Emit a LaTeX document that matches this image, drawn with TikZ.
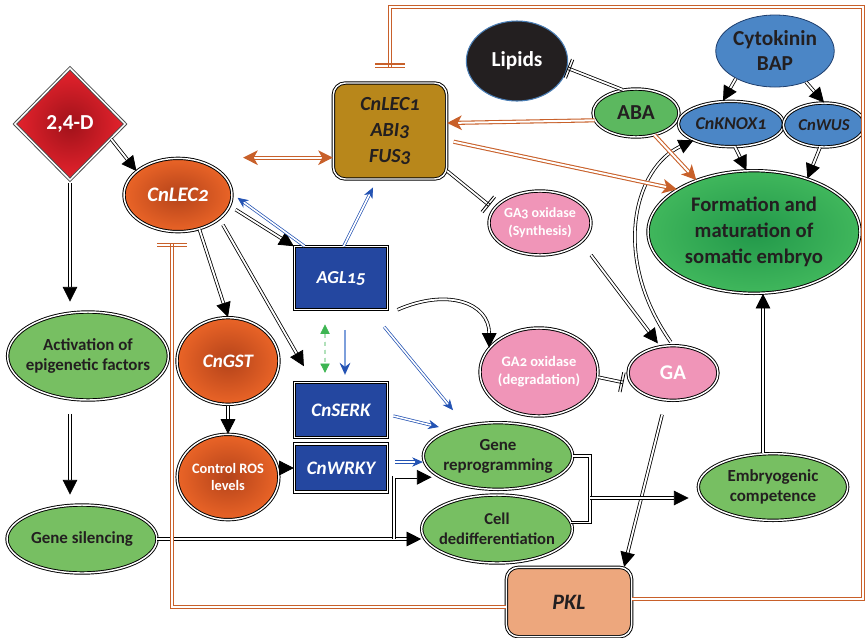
\documentclass[tikz,border=0pt]{standalone}
\usepackage{fontspec}
\setmainfont{Carlito}[Numbers=OldStyle]
\usetikzlibrary{shapes.geometric,arrows.meta,calc}
\definecolor{txt}{HTML}{231F20}
\definecolor{redI}{HTML}{A0121A}
\definecolor{redO}{HTML}{E6232D}
\definecolor{orI}{HTML}{B4431A}
\definecolor{orO}{HTML}{EA6427}
\definecolor{gold}{HTML}{B8871B}
\definecolor{lipK}{HTML}{231F20}
\definecolor{lipB}{HTML}{4A7EB5}
\definecolor{cyB}{HTML}{4B86C6}
\definecolor{cyD}{HTML}{1F3F6E}
\definecolor{abaG}{HTML}{5CB85F}
\definecolor{lg}{HTML}{77BF62}
\definecolor{fmI}{HTML}{22984A}
\definecolor{fmO}{HTML}{40B75C}
\definecolor{pink}{HTML}{F095B8}
\definecolor{dblue}{HTML}{2447A0}
\definecolor{pkl}{HTML}{EDA77D}
\definecolor{orL}{HTML}{C8602A}
\definecolor{blL}{HTML}{2453B3}
\definecolor{lbl}{HTML}{7D9FDB}
\definecolor{gdash}{HTML}{3DB552}
\tikzset{
 nb/.style={draw=black, line width=0.7pt, double=white, double distance=1.1pt, inner sep=0pt, align=center, text=txt},
 ell/.style={nb, ellipse},
 bx/.style={nb, rectangle},
 dl/.style={draw=black, line width=0.6pt, double=white, double distance=1.4pt},
 arr/.style={dl, -{Triangle[length=11pt,width=11pt]}},
 inh/.style={dl, -{Bar[width=15pt,line width=0.6pt,sep=1.3pt]Bar[width=15pt,line width=0.6pt]}},
 ol/.style={draw=orL, line width=0.8pt, double=white, double distance=1.5pt},
 oarr/.style={ol, -{Stealth[length=11pt,width=11pt,inset=3pt]}},
 obi/.style={ol, {Stealth[length=11pt,width=11pt,inset=3pt]}-{Stealth[length=11pt,width=11pt,inset=3pt]}},
 oinh/.style={ol, -{Bar[width=22pt,line width=0.9pt,sep=1.5pt]Bar[width=22pt,line width=0.9pt]}},
 bl/.style={draw=blL, line width=0.55pt, double=white, double distance=1.2pt},
 barr/.style={bl, -{Stealth[length=8pt,width=7pt,inset=2.5pt]}},
}
\begin{document}
\begin{tikzpicture}[x=0.75pt,y=-0.75pt]
\useasboundingbox (0,0) rectangle (865,637);
% nodes
\node[nb, diamond, aspect=1, minimum width=83pt, minimum height=84pt, shade, inner color=redI, outer color=redO, draw=black!70, text=white, font=\bfseries\fontsize{16}{18}\selectfont\addfontfeatures{Numbers=Lining}] (d24) at (70,124) {2,4-D};
\node[ell, minimum width=81pt, minimum height=55pt, shade, inner color=orI, outer color=orO, text=white, font=\bfseries\itshape\fontsize{15.5}{18}\selectfont] (lec2) at (178,195) {CnLEC2};
\node[bx, rounded corners=9pt, minimum width=85pt, minimum height=72pt, fill=gold, font=\bfseries\itshape\fontsize{15}{19.5}\selectfont] (lec1) at (390,131) {CnLEC1\\ABI3\\FUS3};
\node[ellipse, draw=lipB, line width=0.8pt, fill=lipK, text=white, inner sep=0pt, minimum width=76pt, minimum height=60pt, font=\bfseries\fontsize{16}{18}\selectfont] (lip) at (517,61) {Lipids};
\node[ellipse, draw=cyD, line width=0.6pt, fill=cyB, text=txt, inner sep=0pt, align=center, minimum width=88pt, minimum height=54pt, font=\bfseries\fontsize{16}{18.75}\selectfont] (cyt) at (775,51) {Cytokinin\\BAP};
\node[ell, minimum width=64.5pt, minimum height=36pt, fill=abaG, font=\bfseries\fontsize{16}{18}\selectfont] (aba) at (636,113) {ABA};
\node[ell, minimum width=79pt, minimum height=34pt, fill=cyB, font=\bfseries\itshape\fontsize{13.5}{16}\selectfont] (knox) at (731,124) {CnKNOX1};
\node[ell, minimum width=61pt, minimum height=33pt, fill=cyB, font=\bfseries\itshape\fontsize{12.5}{15}\selectfont] (wus) at (824,125) {CnWUS};
\node[ell, inner xsep=-4pt, minimum width=159pt, minimum height=92pt, shade, inner color=fmI, outer color=fmO, font=\bfseries\fontsize{15.5}{19.5}\selectfont] (form) at (754,232) {Formation and\\maturation of\\somatic embryo};
\node[ell, minimum width=76.5pt, minimum height=48pt, fill=pink, text=white, font=\bfseries\fontsize{10.5}{13.5}\selectfont] (ga3) at (540,223) {GA3 oxidase\\(Synthesis)};
\node[bx, minimum width=70pt, minimum height=47pt, fill=dblue, text=white, font=\bfseries\itshape\fontsize{13.7}{16}\selectfont] (agl) at (341,278) {AGL15};
\node[bx, minimum width=70pt, minimum height=41pt, fill=dblue, text=white, font=\bfseries\itshape\fontsize{14.3}{16}\selectfont] (serk) at (341,410) {CnSERK};
\node[bx, minimum width=70pt, minimum height=36pt, fill=dblue, text=white, font=\bfseries\itshape\fontsize{14.3}{16}\selectfont] (wrky) at (341,468) {CnWRKY};
\node[ell, minimum width=76.5pt, minimum height=65pt, shade, inner color=orI, outer color=orO, text=white, font=\bfseries\itshape\fontsize{14.3}{16}\selectfont] (gst) at (228,361) {CnGST};
\node[ell, minimum width=72pt, minimum height=64pt, shade, inner color=orI, outer color=orO, text=white, font=\bfseries\fontsize{10.8}{12.75}\selectfont] (ros) at (228,477) {Control ROS\\levels};
\node[ell, inner xsep=-4pt, minimum width=111pt, minimum height=66pt, fill=lg, font=\bfseries\fontsize{12.7}{15}\selectfont] (act) at (88,356) {Activation of\\epigenetic factors};
\node[ell, inner xsep=-4pt, minimum width=112.5pt, minimum height=51pt, fill=lg, font=\bfseries\fontsize{12.7}{15}\selectfont] (sil) at (82,539) {Gene silencing};
\node[ell, inner xsep=-4pt, minimum width=112pt, minimum height=50pt, fill=lg, font=\bfseries\fontsize{12.7}{15}\selectfont] (rep) at (498,456) {Gene\\reprogramming};
\node[ell, inner xsep=-4pt, minimum width=113pt, minimum height=51pt, fill=lg, font=\bfseries\fontsize{12.4}{15}\selectfont] (ded) at (497,529) {Cell\\dedifferentiation};
\node[ell, minimum width=88.5pt, minimum height=66pt, fill=pink, text=white, font=\bfseries\fontsize{10.9}{13.5}\selectfont] (ga2) at (539,372) {GA2 oxidase\\(degradation)};
\node[ell, minimum width=67.5pt, minimum height=41pt, fill=pink, text=white, font=\bfseries\fontsize{15.7}{18}\selectfont] (ga) at (673,373) {GA};
\node[ell, inner xsep=-4pt, minimum width=112pt, minimum height=50pt, fill=lg, font=\bfseries\fontsize{12.7}{15}\selectfont] (emb) at (773,487) {Embryogenic\\competence};
\node[bx, rounded corners=9pt, minimum width=94pt, minimum height=52pt, fill=pkl, font=\bfseries\itshape\fontsize{16.5}{18}\selectfont] (pkl) at (569,602) {PKL};
% coordinates
\coordinate (fr) at (863,7);
\coordinate (j) at (590,498);
\coordinate (b) at (394,539);
% black connectors
\draw[arr] (d24.-20) -- (lec2.150);
\draw[arr, shorten <=2pt, shorten >=7.5pt] (d24.south) -- (d24.south |- act.north);
\draw[arr, shorten <=10pt, shorten >=7.5pt] (d24.south |- act.south) -- (d24.south |- sil.north);
\draw[arr, shorten <=5pt] (lec2.-12) -- (agl.north west);
\draw[arr] (lec2.-58) -- (gst.north);
\draw[arr, shorten <=5pt] (lec2.-30) -- ($(serk.north west)+(10,-16)$);
\draw[arr, shorten <=1pt] (gst.south) -- (ros.north);
\draw[arr] (ros.east |- wrky.west) -- (wrky.west);
\draw[arr] ([xshift=7pt]agl.south east) .. controls +(50,-22) and +(0,-45) .. (ga2.154);
\draw[inh, shorten >=4pt] (lec1.-35) -- (ga3.163);
\draw[arr, shorten <=12pt] (ga3.-25) -- ($(ga.north west)+(17,-10)$);
\draw[arr, shorten <=3pt] (ga.north) .. controls +(-63,-90) and +(-58,27) .. (knox.south west);
\draw[inh, shorten >=6pt] (ga2.-5) -- (ga.195);
\draw[arr, shorten <=11pt] (ga.-105) -- ([xshift=-6pt]pkl.north east);
\draw[dl] (rep.east) -| (j);
\draw[dl] (ded.5) -| (j);
\draw[arr, shorten >=7pt] (j) -- (emb.west |- j);
\draw[arr] (sil.east) -- (sil.east -| ded.west);
\draw[arr, shorten >=6pt] (b) |- (rep.200);
\draw[arr] ([xshift=-7.5pt]emb.north) -- ([xshift=-7.5pt]emb.north |- form.south);
\draw[arr] (cyt.-145) -- ([xshift=-6pt]knox.north);
\draw[arr] (cyt.-45) -- (wus.north);
\draw[arr] (knox.-80) -- (form.97);
\draw[arr] (wus.-100) -- (form.45);
\draw[inh] (aba.120) -- (lip.-8);
% orange connectors
\draw[obi, shorten <=8pt] ([yshift=-20pt]lec1.west -| lec2.east) -- ([yshift=-20pt]lec1.west);
\draw[oarr] (aba.190) -- ([yshift=6pt]lec1.east);
\draw[oarr, shorten <=5pt] ([yshift=-7pt]lec1.east) -- (form.151);
\draw[oarr] (aba.-50) -- (form.138);
\draw[oinh, shorten >=11pt] ([yshift=2pt]pkl.east) -| (fr) -| (lec1.north);
\draw[oinh, shorten >=8pt] ([yshift=-4pt]pkl.west) -| ([xshift=-4.5pt]lec2.south);
% blue connectors
\draw[barr] ([xshift=8pt]agl.north west) -- ($(lec2.north east)+(21,29)$);
\draw[barr] ([xshift=2pt]agl.north) -- ($(lec1.south)+(-17,8)$);
\draw[draw=lbl, line width=2pt, shorten <=15pt, shorten >=5.5pt, -{Stealth[length=9pt,width=8pt,inset=3pt,color=blL]}] ([xshift=3pt]agl.south) -- ([xshift=3pt]serk.north);
\draw[draw=gdash, line width=0.5pt, double=gdash!40, double distance=1pt, dashed, shorten <=11pt, shorten >=7pt, {Triangle[length=7pt,width=7pt]}-{Triangle[length=7pt,width=7pt]}] ([xshift=-12pt]agl.south) -- ([xshift=-12pt]serk.north);
\draw[barr] ($(agl.south east)+(-4,17)$) -- ($(rep.north)+(-45,-12)$);
\draw[barr, shorten <=4pt] ([yshift=-3.5pt]serk.east) -- ($(rep.west)+(16,-29)$);
\draw[barr, shorten <=5pt] ([yshift=4.5pt]wrky.east) -- ([yshift=4.5pt]wrky.east -| rep.west);
\end{tikzpicture}
\end{document}
